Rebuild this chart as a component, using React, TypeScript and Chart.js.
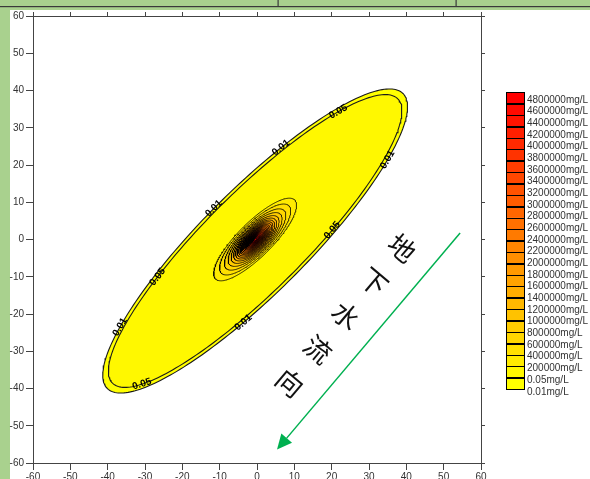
import React, { useEffect, useRef } from 'react';
import { Chart, registerables } from 'chart.js';

Chart.register(...registerables);

// ---------- data ----------
const xTickValues = [-60, -50, -40, -30, -20, -10, 0, 10, 20, 30, 40, 50, 60];
const yTickValues = [-60, -50, -40, -30, -20, -10, 0, 10, 20, 30, 40, 50, 60];

// contour levels (outer -> inner) and the ellipse
const contourLevels = ['0.01', '0.05', '200000', '400000', '600000', '800000', '1000000', '1200000', '1400000', '1600000', '1800000', '2000000', '2200000', '2400000', '2600000', '2800000', '3000000', '3200000', '3400000', '3600000', '3800000', '4000000', '4200000', '4400000', '4600000', '4800000'];
const contourCenterX = [-0.5, -0.5, -0.5, -0.5, -0.5, -0.5, -0.5, -0.5, -0.5, -0.5, -0.5, -0.5, -0.5, -0.5, -0.5, -0.5, -0.5, -0.5, -0.5, -0.5, -0.5, -0.5, -0.5, -0.5, -0.5, -0.5];
const contourCenterY = [-0.4, -0.4, 0, 0, 0, 0, 0, 0, 0, 0, 0, 0, 0, 0, 0, 0, 0, 0, 0, 0, 0, 0, 0, 0, 0, 0];
const contourSemiMajor = [56, 54, 15.0, 12.8, 11.0, 9.6, 8.5, 7.6, 6.9, 6.3, 5.8, 5.3, 4.9, 4.5, 4.1, 3.7, 3.4, 3.1, 2.8, 2.5, 2.2, 1.9, 1.6, 1.3, 1.0, 0.6];
const contourSemiMinor = [14, 13.2, 4.6, 4.2, 3.8, 3.5, 3.2, 2.95, 2.7, 2.5, 2.3, 2.1, 1.95, 1.8, 1.65, 1.5, 1.35, 1.2, 1.1, 1.0, 0.85, 0.75, 0.62, 0.5, 0.38, 0.25];
const contourAngleDeg = [45, 45, 45, 45, 45, 45, 45, 45, 45, 45, 45, 45, 45, 45, 45, 45, 45, 45, 45, 45, 45, 45, 45, 45, 45, 45];

// legend (top -> bottom)
const legendLabels = ['4800000mg/L', '4600000mg/L', '4400000mg/L', '4200000mg/L', '4000000mg/L', '3800000mg/L', '3600000mg/L', '3400000mg/L', '3200000mg/L', '3000000mg/L', '2800000mg/L', '2600000mg/L', '2400000mg/L', '2200000mg/L', '2000000mg/L', '1800000mg/L', '1600000mg/L', '1400000mg/L', '1200000mg/L', '1000000mg/L', '800000mg/L', '600000mg/L', '400000mg/L', '200000mg/L', '0.05mg/L', '0.01mg/L'];
const legendColors = ['#ff0000', '#ff0a00', '#ff1400', '#ff1f00', '#ff2900', '#ff3300', '#ff3d00', '#ff4700', '#ff5200', '#ff5c00', '#ff6600', '#ff7000', '#ff7a00', '#ff8500', '#ff8f00', '#ff9900', '#ffa300', '#ffad00', '#ffb800', '#ffc200', '#ffcc00', '#ffd600', '#ffe000', '#ffeb00', '#fff800', '#ffff00'];

// contour labels on the outer contours
const contourLabelText = ['0.05', '0.01', '0.01', '0.01', '0.05', '0.05', '0.01', '0.01', '0.05'];
const contourLabelX = [21.7, 6.4, 34.8, -11.8, 20.9, -26.8, -3.75, -37.2, -30.8];
const contourLabelY = [34.2, 24.6, 21.3, 8.5, 2.6, -10.1, -23.0, -23.8, -38.8];

// groundwater flow annotation
const flowText = ['地', '下', '水', '流', '向'];

// ---------- helpers ----------
const FONT = '"Liberation Sans", Arial, sans-serif';
const SAMPLES = 240;

function ellipsePoint(i: number, t: number) {
  const th = (contourAngleDeg[i] * Math.PI) / 180;
  const u = contourSemiMajor[i] * Math.cos(t);
  const v = contourSemiMinor[i] * Math.sin(t);
  return {
    x: contourCenterX[i] + u * Math.cos(th) - v * Math.sin(th),
    y: contourCenterY[i] + u * Math.sin(th) + v * Math.cos(th),
  };
}

function paramOf(i: number, x: number, y: number) {
  const th = (contourAngleDeg[i] * Math.PI) / 180;
  const dx = x - contourCenterX[i];
  const dy = y - contourCenterY[i];
  const u = dx * Math.cos(th) + dy * Math.sin(th);
  const v = -dx * Math.sin(th) + dy * Math.cos(th);
  return Math.atan2(v / contourSemiMinor[i], u / contourSemiMajor[i]);
}

const bgPlugin = {
  id: 'bg',
  beforeDraw(chart: any) {
    const ctx = chart.ctx;
    ctx.save();
    ctx.fillStyle = '#ffffff';
    ctx.fillRect(0, 0, chart.width, chart.height);
    ctx.fillStyle = '#a9d18e';
    ctx.fillRect(0, 0, chart.width, 10);
    ctx.fillRect(0, 0, 10, chart.height);
    ctx.fillStyle = '#3a3a3a';
    ctx.fillRect(0, 6, chart.width, 1.2);
    ctx.fillRect(277.5, 0, 1.2, 7);
    ctx.fillRect(455.5, 0, 1.2, 7);
    ctx.restore();
  },
};

const overlayPlugin = {
  id: 'overlay',
  afterDatasetsDraw(chart: any) {
    const ctx = chart.ctx;
    const xs = chart.scales.x;
    const ys = chart.scales.y;
    const area = chart.chartArea;
    ctx.save();
    ctx.beginPath();
    ctx.rect(area.left, area.top, area.right - area.left, area.bottom - area.top);
    ctx.clip();

    // contour labels
    ctx.font = `bold 10px ${FONT}`;
    ctx.fillStyle = '#000';
    ctx.textAlign = 'center';
    ctx.textBaseline = 'middle';
    contourLabelText.forEach((txt, k) => {
      const ci = contourLevels.indexOf(txt);
      const t = paramOf(ci, contourLabelX[k], contourLabelY[k]);
      const p = ellipsePoint(ci, t);
      const p1 = ellipsePoint(ci, t - 0.01);
      const p2 = ellipsePoint(ci, t + 0.01);
      const px = xs.getPixelForValue(p.x);
      const py = ys.getPixelForValue(p.y);
      let ang = Math.atan2(
        ys.getPixelForValue(p2.y) - ys.getPixelForValue(p1.y),
        xs.getPixelForValue(p2.x) - xs.getPixelForValue(p1.x)
      );
      if (ang > Math.PI / 2) ang -= Math.PI;
      if (ang < -Math.PI / 2) ang += Math.PI;
      ctx.save();
      ctx.translate(px, py);
      ctx.rotate(ang);
      ctx.fillText(txt, 0, 0);
      ctx.restore();
    });

    // flow direction text
    const tStart = { x: 38.8, y: -2.3 };
    const tEnd = { x: 8.8, y: -38.5 };
    ctx.font = `27px "Noto Sans CJK SC", sans-serif`;
    ctx.fillStyle = '#111';
    flowText.forEach((ch, j) => {
      const f = j / (flowText.length - 1);
      const px = xs.getPixelForValue(tStart.x + (tEnd.x - tStart.x) * f);
      const py = ys.getPixelForValue(tStart.y + (tEnd.y - tStart.y) * f);
      ctx.save();
      ctx.translate(px, py);
      ctx.rotate((40 * Math.PI) / 180);
      ctx.fillText(ch, 0, 0);
      ctx.restore();
    });

    // arrow
    const a0 = { x: xs.getPixelForValue(54.4), y: ys.getPixelForValue(1.75) };
    const a1 = { x: xs.getPixelForValue(5.36), y: ys.getPixelForValue(-56.4) };
    const dir = Math.atan2(a1.y - a0.y, a1.x - a0.x);
    const headLen = 15;
    const headHalf = 7;
    const bx = a1.x - headLen * Math.cos(dir);
    const by = a1.y - headLen * Math.sin(dir);
    ctx.strokeStyle = '#00b050';
    ctx.fillStyle = '#00b050';
    ctx.lineWidth = 1.5;
    ctx.beginPath();
    ctx.moveTo(a0.x, a0.y);
    ctx.lineTo(bx, by);
    ctx.stroke();
    ctx.beginPath();
    ctx.moveTo(a1.x, a1.y);
    ctx.lineTo(bx + headHalf * Math.sin(dir), by - headHalf * Math.cos(dir));
    ctx.lineTo(bx - headHalf * Math.sin(dir), by + headHalf * Math.cos(dir));
    ctx.closePath();
    ctx.fill();
    ctx.restore();
  },
  afterDraw(chart: any) {
    const ctx = chart.ctx;
    ctx.save();
    // legend
    const bx = 506;
    const bw = 18;
    const top = 92.3;
    const bh = 11.42;
    legendLabels.forEach((lab, i) => {
      ctx.fillStyle = legendColors[i];
      ctx.fillRect(bx, top + i * bh, bw, bh);
    });
    ctx.strokeStyle = '#000';
    ctx.lineWidth = 1;
    legendLabels.forEach((lab, i) => {
      ctx.strokeRect(bx + 0.5, Math.round(top + i * bh) + 0.5, bw, Math.round(bh));
    });
    ctx.font = `10px ${FONT}`;
    ctx.fillStyle = '#333';
    ctx.textAlign = 'left';
    ctx.textBaseline = 'middle';
    legendLabels.forEach((lab, i) => {
      ctx.fillText(lab, 527, 100 + i * 11.67);
    });
    ctx.restore();
  },
};

export default function App() {
  const canvasRef = useRef<HTMLCanvasElement | null>(null);

  useEffect(() => {
    document.body.style.margin = '0';
    const canvas = canvasRef.current;
    if (!canvas) return;

    const datasets = contourLevels.map((lvl, i) => {
      const pts: { x: number; y: number }[] = [];
      for (let k = 0; k <= SAMPLES; k++) {
        pts.push(ellipsePoint(i, (2 * Math.PI * k) / SAMPLES));
      }
      return {
        label: lvl,
        data: pts,
        showLine: true,
        pointRadius: 0,
        borderColor: i < 2 ? '#1a1a1a' : '#000',
        borderWidth: i < 2 ? 1.1 : 0.8,
        backgroundColor: legendColors[legendColors.length - 1 - i],
        fill: 'shape',
        tension: 0,
        order: contourLevels.length - i,
      };
    });

    const axisCommon = {
      type: 'linear' as const,
      min: -60,
      max: 60,
      border: { display: true, color: '#444', width: 1 },
    };

    const chart = new Chart(canvas, {
      type: 'scatter',
      data: { datasets: datasets as any },
      options: {
        responsive: false,
        animation: false,
        layout: { padding: 0 },
        plugins: { legend: { display: false }, tooltip: { enabled: false } },
        scales: {
          x: {
            ...axisCommon,
            position: 'bottom',
            afterBuildTicks: (s: any) => { s.ticks = xTickValues.map((v) => ({ value: v })); },
            ticks: { font: { size: 10, family: FONT }, color: '#333', padding: 1, maxRotation: 0, autoSkip: false },
            grid: { drawOnChartArea: false, drawTicks: true, tickLength: 7, color: '#444' },
            afterFit: (s: any) => { s.height = 16; },
          },
          y: {
            ...axisCommon,
            position: 'left',
            afterBuildTicks: (s: any) => { s.ticks = yTickValues.map((v) => ({ value: v })); },
            ticks: { font: { size: 10, family: FONT }, color: '#333', padding: 2, autoSkip: false },
            grid: { drawOnChartArea: false, drawTicks: true, tickLength: 7, color: '#444' },
            afterFit: (s: any) => { s.width = 33; },
          },
          x2: {
            ...axisCommon,
            position: 'top',
            afterBuildTicks: (s: any) => { s.ticks = xTickValues.map((v) => ({ value: v })); },
            ticks: { display: false },
            grid: { drawOnChartArea: false, drawTicks: true, tickLength: 4, color: '#444' },
            afterFit: (s: any) => { s.height = 16; },
          },
          y2: {
            ...axisCommon,
            position: 'right',
            afterBuildTicks: (s: any) => { s.ticks = yTickValues.map((v) => ({ value: v })); },
            ticks: { display: false },
            grid: { drawOnChartArea: false, drawTicks: true, tickLength: 4, color: '#444' },
            afterFit: (s: any) => { s.width = 109; },
          },
        } as any,
      },
      plugins: [bgPlugin, overlayPlugin],
    });

    return () => chart.destroy();
  }, []);

  return (
    <div style={{ position: 'fixed', left: 0, top: 0, width: 590, height: 479 }}>
      <canvas ref={canvasRef} width={590} height={479} style={{ display: 'block', width: 590, height: 479 }} />
    </div>
  );
}
